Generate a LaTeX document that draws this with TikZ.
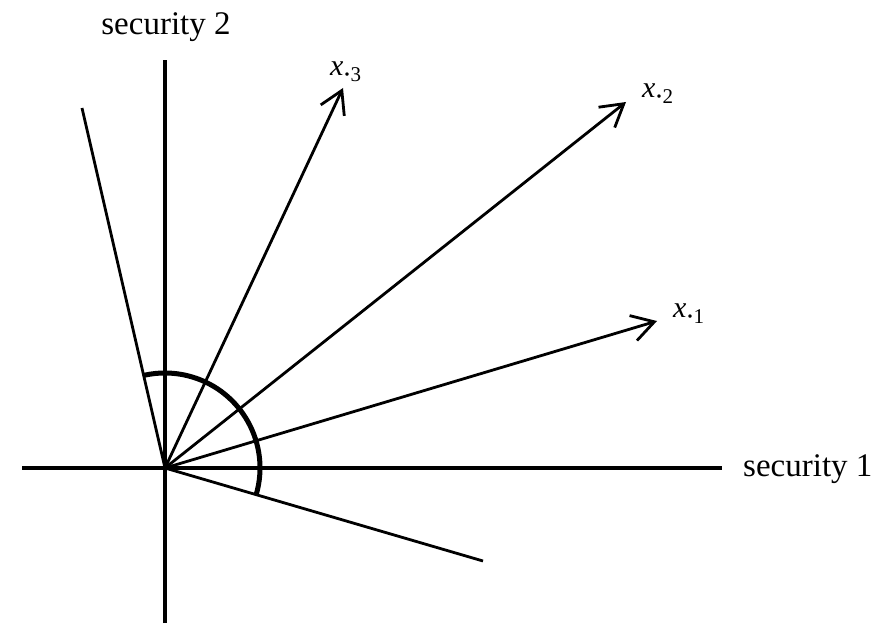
\documentclass[tikz,border=0pt]{standalone}
\usepackage{fontspec}
\setmainfont{Liberation Serif}
\usetikzlibrary{arrows.meta}
\begin{document}
\begin{tikzpicture}[x=1pt,y=1pt,
  axis/.style={line width=4pt},
  ray/.style={line width=2.8pt},
  vec/.style={line width=2.8pt,-{Straight Barb[length=22pt,width=26pt,line width=2.8pt]}},
  angarc/.style={line width=5pt},
  axlabel/.style={font=\fontsize{33}{40}\selectfont, inner sep=0pt},
  veclabel/.style={font=\fontsize{30}{36}\selectfont, inner sep=0pt}]
\useasboundingbox (0,0) rectangle (877,635);
\coordinate (O) at (165,167);
\coordinate (hl) at (22,167);
\coordinate (hr) at (722,167);
\coordinate (vb) at (165,12);
\coordinate (vt) at (165,575);
\coordinate (L) at (82,527);
\coordinate (D) at (483,74);
\coordinate (X3) at (343,547);
\coordinate (X2) at (626,533);
\coordinate (X1) at (657,314);
\draw[axis] (hl) -- (hr);
\draw[axis] (vb) -- (vt);
\draw[ray] (O) -- (L);
\draw[ray] (O) -- (D);
\draw[vec] (O) -- (X3);
\draw[vec] (O) -- (X2);
\draw[vec] (O) -- (X1);
\draw[angarc] (O) ++(-16.3:95) arc[start angle=-16.3, end angle=103, radius=95];
\node[axlabel, anchor=base] (s2) at (166,600) {security 2};
\node[axlabel, anchor=base west] (s1) at (743,159) {security 1};
\node[veclabel, anchor=base west] (l3) at (330,559) {\textit{x}\textsubscript{\textbf{·}3}};
\node[veclabel, anchor=base west] (l2) at (642,537) {\textit{x}\textsubscript{\textbf{·}2}};
\node[veclabel, anchor=base west] (l1) at (673,317) {\textit{x}\textsubscript{\textbf{·}1}};
\end{tikzpicture}
\end{document}
